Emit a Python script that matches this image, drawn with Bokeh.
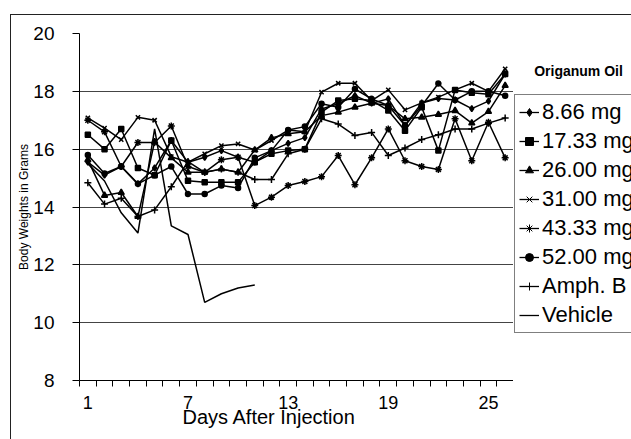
from bokeh.plotting import figure
from bokeh.models import FixedTicker, Legend, LegendItem, Label, Title
from bokeh.layouts import row
from bokeh.embed import file_html
from bokeh.resources import INLINE

days = list(range(1, 27))

s_866 = [15.55, 15.1, 15.4, 14.8, 15.35, 16.3, 15.55, 15.72, 15.95, 15.72, 15.55, 15.95, 16.2,
         16.4, 17.39, 17.57, 17.85, 17.59, 17.74, 16.82, 17.6, 17.75, 17.7, 17.4, 17.66, 18.6]
s_1733 = [16.5, 16.0, 16.7, 15.35, 15.1, 16.3, 14.91, 14.86, 14.86, 14.86, 15.55, 15.84, 15.95,
          16.0, 17.28, 17.68, 17.74, 17.68, 17.34, 16.64, 17.45, 15.95, 18.05, 17.95, 17.9, 18.6]
s_2600 = [15.63, 14.4, 14.5, 13.67, 16.25, 15.7, 15.2, 15.2, 15.31, 15.2, 15.97, 16.39, 16.53,
          16.6, 17.16, 17.28, 17.45, 17.59, 17.51, 17.05, 17.1, 17.2, 17.33, 16.9, 17.3, 18.2]
s_3100 = [17.08, 16.73, 16.33, 17.1, 17.0, 15.74, 15.55, 15.84, 16.12, 16.18, 15.97, 16.3, 16.66,
          16.6, 17.97, 18.28, 18.28, 17.68, 18.05, 17.36, 17.6, 17.8, 18.05, 18.28, 18.0, 18.78]
s_4333 = [17.0, 16.6, 15.4, 16.23, 16.23, 16.8, 15.4, 15.2, 15.63, 15.72, 14.05, 14.34, 14.74,
          14.88, 15.05, 15.78, 14.77, 15.7, 16.7, 15.6, 15.4, 15.3, 17.05, 15.6, 16.93, 15.7]
s_5200 = [15.8, 15.16, 15.4, 14.8, 15.1, 15.4, 14.45, 14.45, 14.74, 14.66, 15.7, 15.95, 16.66,
          16.78, 17.57, 17.45, 18.08, 17.74, 17.51, 16.82, 17.5, 18.27, 17.7, 18.0, 18.0, 17.85]
s_amph = [14.84, 14.1, 14.3, 13.67, 13.9, 14.7, 15.57, 15.2, 15.31, 15.2, 14.95, 14.95, 15.84,
          16.0, 17.05, 16.87, 16.47, 16.58, 15.78, 16.04, 16.33, 16.5, 16.7, 16.7, 16.9, 17.08]
s_vehicle = [15.5, 14.9, 13.8, 13.1, 16.7, 13.35, 13.05, 10.7, 11.0, 11.2, 11.3]

labels = ["8.66 mg", "17.33 mg", "26.00 mg", "31.00 mg", "43.33 mg", "52.00 mg", "Amph. B", "Vehicle"]
series = [s_866, s_1733, s_2600, s_3100, s_4333, s_5200, s_amph, s_vehicle]
markers = ["diamond", "square", "triangle", "x", "asterisk", "circle", "cross", None]
marker_sizes = [6, 5, 6, 6, 7, 5, 7, 0]

y_ticks = [8, 10, 12, 14, 16, 18, 20]
x_tick_labels = [1, 7, 13, 19, 25]

FONT = "Liberation Sans"

p = figure(width=513, height=439, x_range=(0.5, 26.5), y_range=(8, 20),
           output_backend="svg", toolbar_location=None,
           min_border_left=79, min_border_right=0, min_border_top=33, min_border_bottom=59)
p.outline_line_color = None
p.background_fill_color = "white"
p.border_fill_color = "white"
p.border_fill_alpha = 0
p.styles = {
    "background": "linear-gradient(#222, #222) 10px 14px / 1px 100% no-repeat, "
                  "linear-gradient(#222, #222) 10px 14px / 100% 1px no-repeat, white",
}

p.xgrid.visible = False
p.ygrid.grid_line_color = "#444444"
p.ygrid.grid_line_width = 1

p.xaxis.ticker = FixedTicker(ticks=x_tick_labels, minor_ticks=[d - 0.5 for d in range(1, 28)])
p.xaxis.major_tick_out = 0
p.xaxis.major_tick_in = 0
p.xaxis.minor_tick_out = 6
p.xaxis.minor_tick_in = 0
p.xaxis.minor_tick_line_color = "black"
p.xaxis.major_label_standoff = 9
p.xaxis.major_label_text_font = FONT
p.xaxis.major_label_text_font_size = "18px"
p.xaxis.major_label_text_color = "black"
p.xaxis.axis_line_color = "black"

p.yaxis.ticker = FixedTicker(ticks=y_ticks, minor_ticks=[])
p.yaxis.major_tick_out = 7
p.yaxis.major_tick_in = 0
p.yaxis.major_tick_line_color = "black"
p.yaxis.major_label_standoff = 18
p.yaxis.major_label_text_font = FONT
p.yaxis.major_label_text_font_size = "19px"
p.yaxis.major_label_text_color = "black"
p.yaxis.axis_line_color = "black"
p.yaxis.axis_label = "Body Weights in Grams"
p.yaxis.axis_label_text_font = FONT
p.yaxis.axis_label_text_font_size = "12px"
p.yaxis.axis_label_text_font_style = "normal"
p.yaxis.axis_label_text_color = "black"
p.yaxis.axis_label_standoff = -1

xtitle = Title(text="Days After Injection", align="left", offset=103, standoff=-15,
               text_font=FONT, text_font_size="20px", text_font_style="normal",
               text_color="black")
p.add_layout(xtitle, "below")

# legend panel
p2 = figure(width=118, height=439, x_range=(0, 118), y_range=(8, 20),
            output_backend="svg", toolbar_location=None,
            x_axis_type=None, y_axis_type=None,
            min_border_left=0, min_border_right=0, min_border_top=33, min_border_bottom=59)
p2.outline_line_color = None
p2.grid.visible = False
p2.background_fill_color = "white"
p2.border_fill_color = "white"
p2.border_fill_alpha = 0
p2.styles = {
    "background": "linear-gradient(#222, #222) 0px 14px / 100% 1px no-repeat, white",
}

items = []
for lab, ys, mk, ms in zip(labels, series, markers, marker_sizes):
    xs = days[:len(ys)]
    p.line(xs, ys, line_color="black", line_width=1.5)
    if mk is not None:
        p.scatter(xs, ys, marker=mk, size=ms, fill_color="black", line_color="black",
                  line_width=1.5)
    l2 = p2.line([-500, -400], [-50, -50], line_color="black", line_width=1.3)
    rends = [l2]
    if mk is not None:
        s2 = p2.scatter([-500], [-50], marker=mk, size=max(ms - 2, 4), fill_color="black",
                        line_color="black", line_width=1.0)
        rends.append(s2)
    items.append(LegendItem(label=lab, renderers=rends))

legend = Legend(items=items, location=(1, 47))
legend.border_line_color = "black"
legend.border_line_width = 1
legend.background_fill_color = "white"
legend.background_fill_alpha = 1
legend.label_text_font = FONT
legend.label_text_font_size = "22px"
legend.label_text_color = "black"
legend.glyph_width = 20
legend.glyph_height = 20
legend.label_standoff = 3
legend.padding = 4
legend.spacing = 3
legend.margin = 0
p2.add_layout(legend, "center")

title_lbl = Label(x=65, y=18.686, text="Origanum Oil", text_font=FONT, text_font_size="14px",
                  text_font_style="bold", text_align="center", text_baseline="middle",
                  text_color="black")
p2.add_layout(title_lbl)

layout = row(p, p2)
open("out.html", "w").write(file_html(layout, INLINE))
